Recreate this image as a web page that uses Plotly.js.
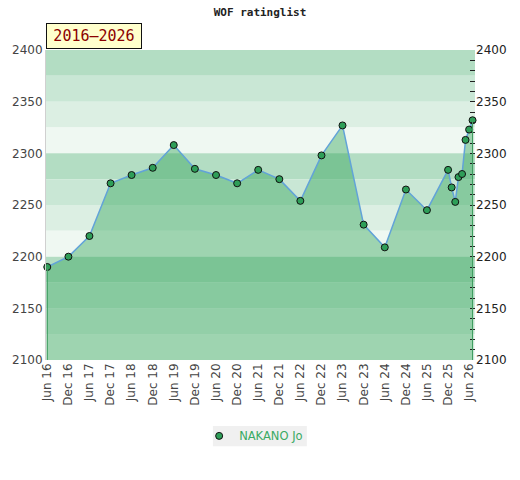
<!DOCTYPE html>
<html>
<head>
<meta charset="utf-8">
<script src="https://cdn.plot.ly/plotly-3.0.1.min.js"></script>
<style>html,body{margin:0;padding:0;background:#fff;}#chart{width:520px;height:480px;}</style>
</head>
<body>
<div id="chart"></div>
<script>
var dates = ['2016-06-01','2016-12-01','2017-06-01','2017-12-01','2018-06-01','2018-12-01',
  '2019-06-01','2019-12-01','2020-06-01','2020-12-01','2021-06-01','2021-12-01',
  '2022-06-01','2022-12-01','2023-06-01','2023-12-01','2024-06-01','2024-12-01',
  '2025-06-01','2025-12-01','2026-01-01','2026-02-01','2026-03-01','2026-04-01',
  '2026-05-01','2026-06-01','2026-07-01'];
var ratings = [2190,2200,2220,2271,2279,2286,2308,2285,2279,2271,2284,2275,
  2254,2298,2327,2231,2209,2265,2245,2284,2267,2253,2277,2280,2313,2323,2332];
var playerName = 'NAKANO Jo';
var periodLabel = '2016\u20132026';
var chartTitle = 'WOF ratinglist';
var yMin = 2100, yMax = 2400;
var bandColors = ['#b3ddc3','#c9e7d5','#dcefe3','#eff8f2'];

var shapes = [];
var k = 0;
for (var bandTop = yMax; bandTop > yMin; bandTop -= 25) {
  shapes.push({type:'rect', xref:'paper', yref:'y', x0:0, x1:1, y0:bandTop-25, y1:bandTop,
    fillcolor:bandColors[k % 4], line:{width:0}, layer:'below'});
  k++;
}
var n = dates.length - 1;
shapes.push({type:'line', xref:'x', yref:'y', x0:dates[0], x1:dates[0], y0:yMin, y1:ratings[0],
  line:{color:'#3f9d60', width:1.2}});
shapes.push({type:'line', xref:'x', yref:'y', x0:dates[n], x1:dates[n], y0:yMin, y1:ratings[n],
  line:{color:'#3f9d60', width:1.2}});
// legend background box
shapes.push({type:'rect', xref:'paper', yref:'paper', x0:0.389, x1:0.608, y0:-0.278, y1:-0.213,
  fillcolor:'#f0f0f0', line:{width:0}, layer:'below'});

var markerStyle = {color:'#2e9e58', size:7, line:{color:'#111', width:1}};
var trace = {
  x: dates, y: ratings, type:'scatter', mode:'lines+markers', name: playerName,
  fill:'tozeroy', fillcolor:'rgba(45,161,86,0.42)',
  line:{color:'#62a3d8', width:1.5},
  marker:markerStyle, cliponaxis:false, showlegend:false
};
var legendTrace = {x:[null], y:[null], type:'scatter', mode:'markers', name: playerName,
  marker:markerStyle, showlegend:true};
var trace2 = {x:[dates[0]], y:[ratings[0]], yaxis:'y2', showlegend:false, hoverinfo:'skip',
  mode:'markers', marker:{opacity:0}};

var layout = {
  width:520, height:480,
  margin:{l:46, r:45, t:50, b:120},
  paper_bgcolor:'#fff', plot_bgcolor:'rgba(0,0,0,0)',
  font:{family:'DejaVu Sans', size:12, color:'#444'},
  title:{text:chartTitle, x:0.5, xanchor:'center', y:0.982, yanchor:'top',
    font:{family:'DejaVu Sans Mono', size:11, color:'#222', weight:'bold'}},
  xaxis:{type:'date', range:['2016-05-21','2026-07-22'], tick0:'2016-06-01', dtick:'M6',
    tickformat:'%b %y', tickangle:-90, ticks:'', showgrid:false, zeroline:false,
    showline:false, tickfont:{size:12, color:'#444'}},
  yaxis:{range:[yMin,yMax], dtick:50, showgrid:false, zeroline:false, ticks:'',
    showline:true, linecolor:'#d0d0d0', linewidth:1, tickfont:{size:12, color:'#444'}},
  yaxis2:{range:[yMin,yMax], overlaying:'y', side:'right', dtick:50, showgrid:false,
    zeroline:false, ticks:'inside', ticklen:5, tickcolor:'#222', showline:false,
    minor:{dtick:10, ticks:'inside', ticklen:5, tickcolor:'#222'},
    tickfont:{size:12, color:'#222'}},
  shapes:shapes,
  showlegend:true,
  legend:{orientation:'h', x:0.357, xanchor:'left', y:-0.198, yanchor:'top',
    bgcolor:'rgba(0,0,0,0)', font:{family:'DejaVu Sans', size:11.5, color:'#3aaa63'}},
  annotations:[{xref:'paper', yref:'paper', x:0, y:1, xanchor:'left', yanchor:'bottom',
    text:periodLabel, showarrow:false, bgcolor:'#ffffcc', bordercolor:'#111', borderwidth:1,
    borderpad:3, width:88, align:'center', yshift:1,
    font:{family:'DejaVu Sans Mono', size:15, color:'#8b0000'}}]
};
Plotly.newPlot('chart', [trace, legendTrace, trace2], layout, {displayModeBar:false, staticPlot:true});
</script>
</body>
</html>
